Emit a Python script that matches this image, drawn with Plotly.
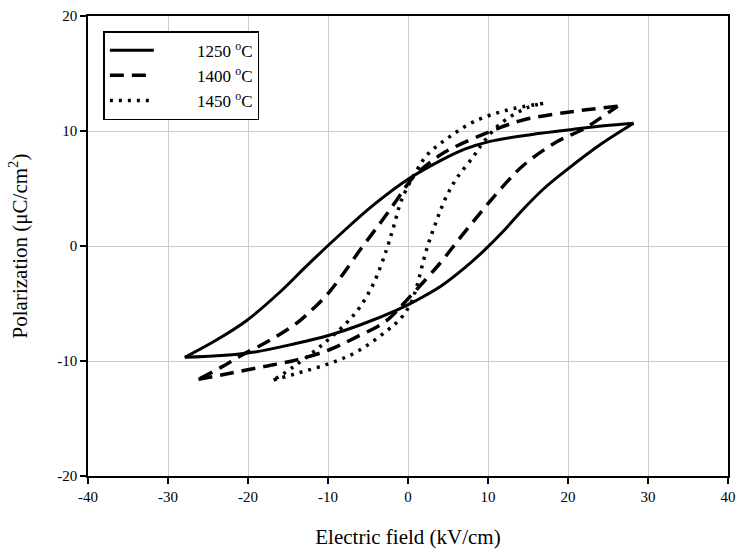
import plotly.graph_objects as go

# 1250 °C (solid): descending branch (+Emax -> -Emax) and ascending branch
x1250_up = [28.2, 24.5, 20.7, 15.5, 10.25, 7.0, 4.0, 0.0, -4.3, -8.5, -12.7, -16.0, -20.2, -24.0, -27.9]
y1250_up = [10.67, 10.45, 10.15, 9.7, 9.1, 8.4, 7.4, 5.8, 3.57, 1.0, -1.75, -4.0, -6.5, -8.2, -9.68]
x1250_lo = [-27.9, -20.2, -13.9, -9.75, -6.0, -1.4, 1.0, 4.0, 7.0, 9.5, 12.0, 14.4, 17.0, 19.8, 24.0, 28.2]
y1250_lo = [-9.68, -9.33, -8.46, -7.74, -6.87, -5.57, -4.75, -3.55, -1.95, -0.4, 1.35, 3.2, 5.0, 6.6, 8.8, 10.67]

# 1400 °C (dashed)
x1400_up = [26.2, 20.7, 14.4, 10.25, 6.1, 4.0, 0.67, -1.4, -3.5, -6.0, -8.5, -10.2, -12.0, -13.9, -17.25, -20.8, -23.5, -26.2]
y1400_up = [12.15, 11.7, 10.96, 9.95, 8.7, 7.9, 6.0, 4.0, 1.97, -0.35, -2.8, -4.3, -5.55, -6.7, -8.2, -9.5, -10.6, -11.6]
x1400_lo = [-26.2, -22.25, -18.1, -13.9, -9.75, -6.4, -2.7, 0.25, 4.0, 6.5, 9.0, 11.5, 14.4, 18.6, 21.9, 24.0, 26.2]
y1400_lo = [-11.6, -11.07, -10.5, -9.9, -9.0, -7.9, -6.5, -4.4, -1.5, 0.7, 2.84, 4.9, 7.0, 9.07, 10.15, 11.1, 12.15]

# 1450 °C (dotted)
x1450_up = [16.9, 12.3, 8.2, 5.0, 2.5, 1.1, -0.8, -1.8, -2.7, -4.3, -6.0, -7.7, -11.0, -14.3, -16.8]
y1450_up = [12.4, 11.8, 10.8, 9.4, 8.0, 6.6, 4.0, 1.68, -0.35, -3.25, -5.3, -6.7, -8.75, -10.5, -11.65]
x1450_lo = [-16.8, -13.5, -9.75, -6.4, -2.7, -0.8, 0.4, 1.1, 2.3, 3.6, 4.8, 6.1, 8.2, 9.4, 11.5, 14.8, 16.9]
y1450_lo = [-11.65, -11.0, -10.2, -9.2, -7.4, -6.2, -4.9, -3.5, -0.35, 2.26, 4.3, 5.9, 7.8, 9.0, 10.6, 12.0, 12.4]

x_ticks = [-40, -30, -20, -10, 0, 10, 20, 30, 40]
y_ticks = [-20, -10, 0, 10, 20]
x_ticktext = [str(v) for v in x_ticks]
y_ticktext = [str(v) for v in y_ticks]

NB = "\u00a0"
SERIF = "Liberation Serif, Times New Roman, serif"
series = [
    ("1250 <sup>o</sup>C", x1250_up, y1250_up, x1250_lo, y1250_lo, "solid", 3),
    ("1400 <sup>o</sup>C", x1400_up, y1400_up, x1400_lo, y1400_lo, "14px,8px", 3.5),
    ("1450 <sup>o</sup>C", x1450_up, y1450_up, x1450_lo, y1450_lo, "3px,6px", 3.5),
]

fig = go.Figure()
for name, xu, yu, xl, yl, dash, w in series:
    label = NB * 9 + name
    ln = dict(color="black", width=w, dash=dash, shape="spline", smoothing=1.0)
    fig.add_trace(go.Scatter(x=xu, y=yu, mode="lines", name=label, legendgroup=name, line=ln))
    fig.add_trace(go.Scatter(x=xl, y=yl, mode="lines", name=label, legendgroup=name,
                             showlegend=False, line=ln))

tick_font = dict(family=SERIF, size=15, color="black")
title_font = dict(family=SERIF, size=21, color="black")
common = dict(ticks="outside", ticklen=6, tickwidth=1.5, tickcolor="black",
              showline=True, linecolor="black", linewidth=1.5, mirror=True,
              showgrid=True, gridcolor="#cccccc", gridwidth=1, zeroline=False,
              tickfont=tick_font, automargin=False)

fig.update_layout(
    width=737, height=549,
    margin=dict(l=88, r=9, t=16, b=73),
    paper_bgcolor="white", plot_bgcolor="white",
    font=dict(family=SERIF, size=15, color="black"),
    showlegend=True,
    legend=dict(x=0.024, y=0.967, xanchor="left", yanchor="top",
                bordercolor="black", borderwidth=1.5, bgcolor="white",
                font=dict(family=SERIF, size=17, color="black"),
                tracegroupgap=0, itemwidth=44),
    xaxis=dict(range=[-40, 40], tickvals=x_ticks, ticktext=x_ticktext,
               title=dict(text="Electric field (kV/cm)", font=title_font, standoff=27), **common),
    yaxis=dict(range=[-20, 20], tickvals=y_ticks, ticktext=y_ticktext,
               title=dict(text="Polarization (μC/cm<sup>2</sup>)", font=title_font, standoff=24), **common),
)

# remove the page's default body margin and scrollbars so the figure fills the window exactly
fig.write_html("out.html",
               config={"displayModeBar": False},
               post_script="document.body.style.margin='0';document.body.style.overflow='hidden';")
